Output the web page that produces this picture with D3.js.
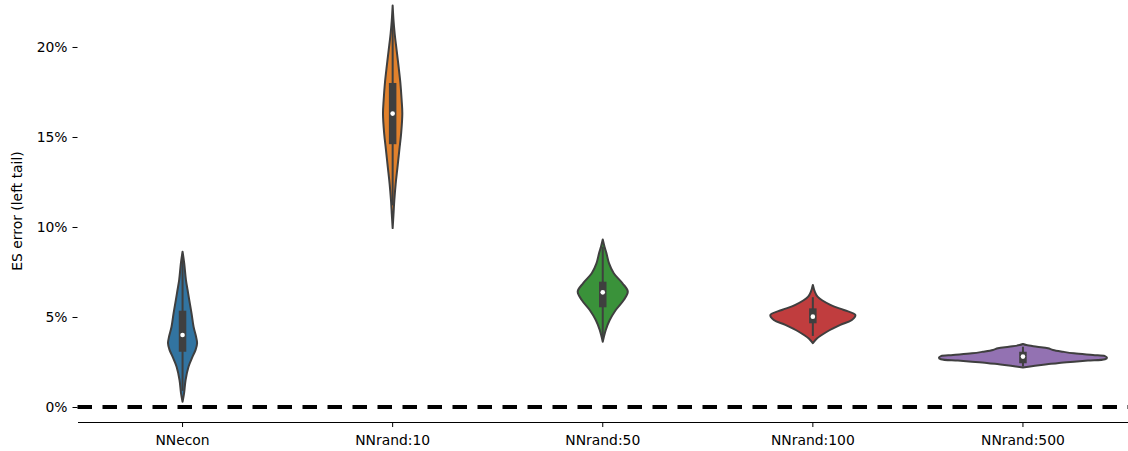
<!DOCTYPE html>
<html>
<head>
<meta charset="utf-8">
<script src="https://cdn.jsdelivr.net/npm/d3@7"></script>
<style>
  html, body { margin: 0; padding: 0; background: #fff; }
  svg { display: block; }
  text { font-family: "DejaVu Sans", sans-serif; }
</style>
</head>
<body>
<svg id="chart" width="1128" height="451"></svg>
<script>
// ---------- data ----------
const categories = ["NNecon", "NNrand:10", "NNrand:50", "NNrand:100", "NNrand:500"];
const colors = ["#3274a1", "#e1812c", "#3a923a", "#c03d3e", "#9372b2"];

// density profiles: [ES error %, relative density]
const densNNecon = [[8.63,0],[7.98,0.02],[7.06,0.04],[6.5,0.06],[5.94,0.08],[5.2,0.107],[4.46,0.131],[3.9,0.161],[3.54,0.173],[3.17,0.155],[2.8,0.119],[2.24,0.071],[1.5,0.036],[0.76,0.018],[0.29,0]];
const densNNrand10 = [[22.3,0],[21.5,0.01],[20.75,0.024],[19.8,0.048],[18.9,0.071],[18.0,0.092],[17.05,0.107],[16.3,0.115],[15.2,0.101],[14.3,0.080],[13.3,0.057],[12.4,0.036],[11.5,0.020],[10.7,0.01],[9.94,0]];
const densNNrand50 = [[9.3,0],[8.9,0.021],[8.54,0.044],[7.98,0.075],[7.43,0.131],[6.87,0.235],[6.41,0.298],[5.94,0.25],[5.39,0.155],[4.83,0.083],[4.28,0.036],[3.63,0]];
const densNNrand100 = [[6.78,0],[6.4,0.024],[6.13,0.056],[5.67,0.208],[5.39,0.369],[5.11,0.506],[4.83,0.464],[4.56,0.327],[4.18,0.167],[3.8,0.048],[3.54,0]];
const densNNrand500 = [[3.5,0],[3.44,0.04],[3.35,0.167],[3.26,0.298],[3.17,0.357],[3.07,0.476],[2.98,0.607],[2.89,0.833],[2.83,0.976],[2.74,1],[2.65,0.976],[2.58,0.774],[2.52,0.607],[2.45,0.429],[2.37,0.286],[2.29,0.143],[2.2,0]];
const densities = [densNNecon, densNNrand10, densNNrand50, densNNrand100, densNNrand500];

// inner box statistics (%)
const q1 = [3.07, 14.6, 5.54, 4.65, 2.43];
const median = [4.0, 16.3, 6.37, 5.02, 2.8];
const q3 = [5.35, 18.0, 6.96, 5.48, 3.07];
const whiskerLow = [0.9, 11.2, 3.9, 3.95, 2.25];
const whiskerHigh = [8.3, 21.5, 8.9, 6.1, 3.35];

const yTicks = [0, 5, 10, 15, 20];
const yLabel = "ES error (left tail)";
const refLine = 0;

// ---------- layout ----------
const svg = d3.select("#chart");
const mLeft = 77.5, mRight = 1128, mTop = 0, mBottom = 422;

const x = d3.scaleBand().domain(categories).range([mLeft, mRight]).paddingInner(0).paddingOuter(0);
const y = d3.scaleLinear().domain([-0.833, 22.61]).range([mBottom, mTop]);
const w = d3.scaleLinear().domain([0, 1]).range([0, x.bandwidth() * 0.4]);

const lineColor = "#3f3f3f";

// reference dashed line
svg.append("line")
  .attr("x1", mLeft).attr("x2", mRight)
  .attr("y1", y(refLine)).attr("y2", y(refLine))
  .attr("stroke", "#000").attr("stroke-width", 4)
  .attr("stroke-dasharray", "14.5,10.5");

// violins
categories.forEach((c, i) => {
  const cx = x(c) + x.bandwidth() / 2;
  const area = d3.area()
    .y(d => y(d[0]))
    .x0(d => cx - w(d[1]))
    .x1(d => cx + w(d[1]))
    .curve(d3.curveCatmullRom.alpha(0.5));
  const g = svg.append("g");
  g.append("path")
    .attr("d", area(densities[i]))
    .attr("fill", colors[i])
    .attr("stroke", lineColor)
    .attr("stroke-width", 2)
    .attr("stroke-linejoin", "round");
  g.append("line")
    .attr("x1", cx).attr("x2", cx)
    .attr("y1", y(whiskerLow[i])).attr("y2", y(whiskerHigh[i]))
    .attr("stroke", lineColor).attr("stroke-width", 2);
  g.append("rect")
    .attr("x", cx - 3.75).attr("width", 7.5)
    .attr("y", y(q3[i])).attr("height", y(q1[i]) - y(q3[i]))
    .attr("fill", lineColor);
  g.append("circle")
    .attr("cx", cx).attr("cy", y(median[i])).attr("r", 2.3)
    .attr("fill", "#fff");
});

// x axis
const xAxis = svg.append("g")
  .attr("transform", `translate(0,${mBottom})`)
  .call(d3.axisBottom(x).tickSize(5).tickSizeOuter(0).tickPadding(8));
xAxis.selectAll("text").attr("font-size", "13.9px").attr("fill", "#000").attr("font-family", "DejaVu Sans");
xAxis.select(".domain").attr("stroke", "#000").attr("stroke-width", 1);
xAxis.selectAll(".tick line").attr("stroke", "#000");

// y axis
const yAxis = svg.append("g")
  .attr("transform", `translate(${mLeft},0)`)
  .call(d3.axisLeft(y).tickValues(yTicks).tickFormat(d => d + "%").tickSize(5).tickPadding(5));
yAxis.select(".domain").remove();
yAxis.selectAll("text").attr("font-size", "13.9px").attr("fill", "#000").attr("font-family", "DejaVu Sans");
yAxis.selectAll(".tick line").attr("stroke", "#000");

// y label
svg.append("text")
  .attr("transform", `translate(22,${(mTop + mBottom) / 2}) rotate(-90)`)
  .attr("text-anchor", "middle")
  .attr("font-size", "13.9px")
  .attr("fill", "#000")
  .text(yLabel);
</script>
</body>
</html>
